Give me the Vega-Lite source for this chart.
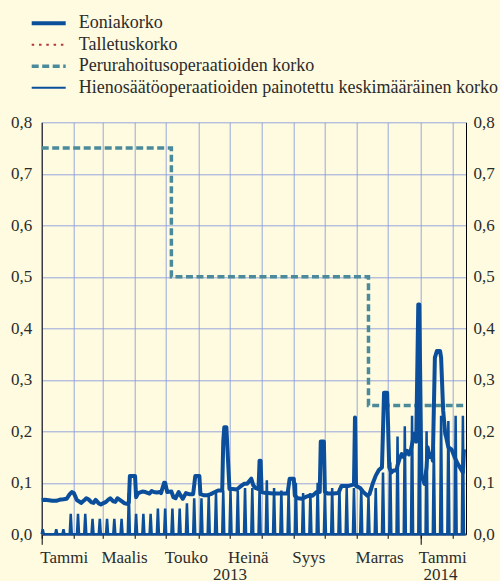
{
"$schema": "https://vega.github.io/schema/vega-lite/v6.json",
"width": 424.3, "height": 412,
"autosize": {"type": "none"},
"padding": {"left": 41.7, "top": 122.3, "right": 34, "bottom": 46.7},
"background": "#fefbe0",
"config": {
  "font": "Liberation Serif, Times New Roman, serif",
  "view": {"stroke": null},
  "axis": {"labelFont": "Liberation Serif, Times New Roman, serif", "labelFontSize": 17, "labelColor": "#2b2b2b", "domainColor": "#000000", "domainWidth": 1, "tickColor": "#000000", "gridColor": "#8c9cdb", "gridWidth": 1, "gridOpacity": 0.9, "title": null}
},
"datasets": {
  "mro": [{"d":"2013-01-01","v":0.75},{"d":"2013-05-06","v":0.5},{"d":"2013-11-12","v":0.25},{"d":"2014-02-14","v":0.25}],
  "dep": [{"d":"2013-01-01","v":0},{"d":"2014-02-14","v":0}],
  "hieno": [
{"d":"2013-01-01","v":0},{"d":"2013-01-02","v":0.01},{"d":"2013-01-03","v":0},
{"d":"2013-01-14","v":0},{"d":"2013-01-15","v":0.01},{"d":"2013-01-16","v":0},
{"d":"2013-01-21","v":0},{"d":"2013-01-22","v":0.01},{"d":"2013-01-23","v":0},
{"d":"2013-01-28","v":0},{"d":"2013-01-29","v":0.04},{"d":"2013-01-30","v":0},
{"d":"2013-02-04","v":0},{"d":"2013-02-05","v":0.04},{"d":"2013-02-06","v":0},
{"d":"2013-02-11","v":0},{"d":"2013-02-12","v":0.04},{"d":"2013-02-13","v":0},
{"d":"2013-02-18","v":0},{"d":"2013-02-19","v":0.03},{"d":"2013-02-20","v":0},
{"d":"2013-02-25","v":0},{"d":"2013-02-26","v":0.03},{"d":"2013-02-27","v":0},
{"d":"2013-03-04","v":0},{"d":"2013-03-05","v":0.03},{"d":"2013-03-06","v":0},
{"d":"2013-03-11","v":0},{"d":"2013-03-12","v":0.03},{"d":"2013-03-13","v":0},
{"d":"2013-03-18","v":0},{"d":"2013-03-19","v":0.03},{"d":"2013-03-20","v":0},
{"d":"2013-03-25","v":0},{"d":"2013-03-26","v":0.08},{"d":"2013-03-27","v":0},
{"d":"2013-04-01","v":0},{"d":"2013-04-02","v":0.04},{"d":"2013-04-03","v":0},
{"d":"2013-04-08","v":0},{"d":"2013-04-09","v":0.04},{"d":"2013-04-10","v":0},
{"d":"2013-04-15","v":0},{"d":"2013-04-16","v":0.04},{"d":"2013-04-17","v":0},
{"d":"2013-04-22","v":0},{"d":"2013-04-23","v":0.05},{"d":"2013-04-24","v":0},
{"d":"2013-04-29","v":0},{"d":"2013-04-30","v":0.05},{"d":"2013-05-01","v":0},
{"d":"2013-05-06","v":0},{"d":"2013-05-07","v":0.05},{"d":"2013-05-08","v":0},
{"d":"2013-05-13","v":0},{"d":"2013-05-14","v":0.05},{"d":"2013-05-15","v":0},
{"d":"2013-05-20","v":0},{"d":"2013-05-21","v":0.06},{"d":"2013-05-22","v":0},
{"d":"2013-05-27","v":0},{"d":"2013-05-28","v":0.07},{"d":"2013-05-29","v":0},
{"d":"2013-06-03","v":0},{"d":"2013-06-04","v":0.07},{"d":"2013-06-05","v":0},
{"d":"2013-06-10","v":0},{"d":"2013-06-11","v":0.075},{"d":"2013-06-12","v":0},
{"d":"2013-06-17","v":0},{"d":"2013-06-18","v":0.08},{"d":"2013-06-19","v":0},
{"d":"2013-06-24","v":0},{"d":"2013-06-25","v":0.085},{"d":"2013-06-26","v":0},
{"d":"2013-07-01","v":0},{"d":"2013-07-02","v":0.085},{"d":"2013-07-03","v":0},
{"d":"2013-07-08","v":0},{"d":"2013-07-09","v":0.085},{"d":"2013-07-10","v":0},
{"d":"2013-07-15","v":0},{"d":"2013-07-16","v":0.09},{"d":"2013-07-17","v":0},
{"d":"2013-07-22","v":0},{"d":"2013-07-23","v":0.09},{"d":"2013-07-24","v":0},
{"d":"2013-07-29","v":0},{"d":"2013-07-30","v":0.09},{"d":"2013-07-31","v":0},
{"d":"2013-08-05","v":0},{"d":"2013-08-06","v":0.105},{"d":"2013-08-07","v":0},
{"d":"2013-08-12","v":0},{"d":"2013-08-13","v":0.09},{"d":"2013-08-14","v":0},
{"d":"2013-08-19","v":0},{"d":"2013-08-20","v":0.085},{"d":"2013-08-21","v":0},
{"d":"2013-08-26","v":0},{"d":"2013-08-27","v":0.085},{"d":"2013-08-28","v":0},
{"d":"2013-09-02","v":0},{"d":"2013-09-03","v":0.1},{"d":"2013-09-04","v":0},
{"d":"2013-09-09","v":0},{"d":"2013-09-10","v":0.08},{"d":"2013-09-11","v":0},
{"d":"2013-09-16","v":0},{"d":"2013-09-17","v":0.08},{"d":"2013-09-18","v":0},
{"d":"2013-09-23","v":0},{"d":"2013-09-24","v":0.1},{"d":"2013-09-25","v":0},
{"d":"2013-09-30","v":0},{"d":"2013-10-01","v":0.085},{"d":"2013-10-02","v":0},
{"d":"2013-10-07","v":0},{"d":"2013-10-08","v":0.09},{"d":"2013-10-09","v":0},
{"d":"2013-10-14","v":0},{"d":"2013-10-15","v":0.09},{"d":"2013-10-16","v":0},
{"d":"2013-10-21","v":0},{"d":"2013-10-22","v":0.09},{"d":"2013-10-23","v":0},
{"d":"2013-10-28","v":0},{"d":"2013-10-29","v":0.09},{"d":"2013-10-30","v":0},
{"d":"2013-11-04","v":0},{"d":"2013-11-05","v":0.09},{"d":"2013-11-06","v":0},
{"d":"2013-11-11","v":0},{"d":"2013-11-12","v":0.075},{"d":"2013-11-13","v":0},
{"d":"2013-11-18","v":0},{"d":"2013-11-19","v":0.09},{"d":"2013-11-20","v":0},
{"d":"2013-11-25","v":0},{"d":"2013-11-26","v":0.12},{"d":"2013-11-27","v":0},
{"d":"2013-12-02","v":0},{"d":"2013-12-03","v":0.14},{"d":"2013-12-04","v":0},
{"d":"2013-12-09","v":0},{"d":"2013-12-10","v":0.19},{"d":"2013-12-11","v":0},
{"d":"2013-12-16","v":0},{"d":"2013-12-17","v":0.21},{"d":"2013-12-18","v":0},
{"d":"2013-12-23","v":0},{"d":"2013-12-24","v":0.23},{"d":"2013-12-25","v":0},
{"d":"2013-12-30","v":0},{"d":"2013-12-31","v":0.24},{"d":"2014-01-01","v":0},
{"d":"2014-01-06","v":0},{"d":"2014-01-07","v":0.2},{"d":"2014-01-08","v":0},
{"d":"2014-01-13","v":0},{"d":"2014-01-14","v":0.17},{"d":"2014-01-15","v":0},
{"d":"2014-01-20","v":0},{"d":"2014-01-21","v":0.23},{"d":"2014-01-22","v":0},
{"d":"2014-01-27","v":0},{"d":"2014-01-28","v":0.22},{"d":"2014-01-29","v":0},
{"d":"2014-02-03","v":0},{"d":"2014-02-04","v":0.23},{"d":"2014-02-05","v":0},
{"d":"2014-02-10","v":0},{"d":"2014-02-11","v":0.23},{"d":"2014-02-12","v":0},
{"d":"2014-02-13","v":0}
  ],
  "eonia": [
{"d":"2013-01-01","v":0.066},{"d":"2013-01-04","v":0.067},{"d":"2013-01-08","v":0.066},{"d":"2013-01-11","v":0.065},
{"d":"2013-01-15","v":0.065},{"d":"2013-01-18","v":0.067},{"d":"2013-01-22","v":0.068},{"d":"2013-01-25","v":0.069},
{"d":"2013-01-28","v":0.078},{"d":"2013-01-30","v":0.082},{"d":"2013-02-01","v":0.080},{"d":"2013-02-04","v":0.066},
{"d":"2013-02-06","v":0.064},{"d":"2013-02-08","v":0.061},{"d":"2013-02-11","v":0.066},{"d":"2013-02-13","v":0.070},
{"d":"2013-02-15","v":0.068},{"d":"2013-02-18","v":0.062},{"d":"2013-02-20","v":0.061},{"d":"2013-02-22","v":0.067},
{"d":"2013-02-25","v":0.060},{"d":"2013-02-27","v":0.058},{"d":"2013-03-01","v":0.060},{"d":"2013-03-04","v":0.063},
{"d":"2013-03-06","v":0.067},{"d":"2013-03-08","v":0.070},{"d":"2013-03-11","v":0.064},{"d":"2013-03-13","v":0.063},
{"d":"2013-03-15","v":0.070},{"d":"2013-03-18","v":0.066},{"d":"2013-03-20","v":0.063},{"d":"2013-03-22","v":0.060},
{"d":"2013-03-25","v":0.059},{"d":"2013-03-26","v":0.062},{"d":"2013-03-27","v":0.113},{"d":"2013-04-01","v":0.113},
{"d":"2013-04-02","v":0.072},{"d":"2013-04-04","v":0.080},{"d":"2013-04-08","v":0.083},{"d":"2013-04-11","v":0.082},
{"d":"2013-04-15","v":0.079},{"d":"2013-04-17","v":0.084},{"d":"2013-04-19","v":0.082},{"d":"2013-04-22","v":0.081},
{"d":"2013-04-25","v":0.082},{"d":"2013-04-26","v":0.080},{"d":"2013-04-29","v":0.100},{"d":"2013-04-30","v":0.100},
{"d":"2013-05-02","v":0.082},{"d":"2013-05-06","v":0.083},{"d":"2013-05-08","v":0.072},{"d":"2013-05-10","v":0.070},
{"d":"2013-05-13","v":0.082},{"d":"2013-05-15","v":0.075},{"d":"2013-05-17","v":0.069},{"d":"2013-05-20","v":0.080},
{"d":"2013-05-23","v":0.078},{"d":"2013-05-27","v":0.078},{"d":"2013-05-29","v":0.113},{"d":"2013-06-02","v":0.113},
{"d":"2013-06-03","v":0.078},{"d":"2013-06-06","v":0.076},{"d":"2013-06-10","v":0.076},{"d":"2013-06-13","v":0.078},
{"d":"2013-06-17","v":0.082},{"d":"2013-06-20","v":0.085},{"d":"2013-06-24","v":0.085},{"d":"2013-06-25","v":0.180},
{"d":"2013-06-26","v":0.208},{"d":"2013-06-28","v":0.208},{"d":"2013-07-01","v":0.088},{"d":"2013-07-04","v":0.088},
{"d":"2013-07-08","v":0.087},{"d":"2013-07-11","v":0.092},{"d":"2013-07-15","v":0.098},{"d":"2013-07-18","v":0.098},
{"d":"2013-07-22","v":0.108},{"d":"2013-07-24","v":0.095},{"d":"2013-07-26","v":0.090},{"d":"2013-07-29","v":0.088},
{"d":"2013-07-30","v":0.143},{"d":"2013-07-31","v":0.143},{"d":"2013-08-01","v":0.082},{"d":"2013-08-05","v":0.080},
{"d":"2013-08-07","v":0.080},{"d":"2013-08-12","v":0.079},{"d":"2013-08-16","v":0.079},{"d":"2013-08-21","v":0.079},
{"d":"2013-08-26","v":0.079},{"d":"2013-08-28","v":0.108},{"d":"2013-09-01","v":0.108},{"d":"2013-09-02","v":0.075},
{"d":"2013-09-05","v":0.070},{"d":"2013-09-09","v":0.069},{"d":"2013-09-12","v":0.072},{"d":"2013-09-16","v":0.075},
{"d":"2013-09-19","v":0.075},{"d":"2013-09-23","v":0.082},{"d":"2013-09-26","v":0.082},{"d":"2013-09-27","v":0.180},
{"d":"2013-09-30","v":0.180},{"d":"2013-10-01","v":0.082},{"d":"2013-10-04","v":0.079},{"d":"2013-10-09","v":0.079},
{"d":"2013-10-14","v":0.080},{"d":"2013-10-17","v":0.094},{"d":"2013-10-21","v":0.094},{"d":"2013-10-24","v":0.094},
{"d":"2013-10-29","v":0.097},{"d":"2013-10-30","v":0.227},{"d":"2013-10-31","v":0.094},{"d":"2013-11-04","v":0.090},
{"d":"2013-11-07","v":0.082},{"d":"2013-11-11","v":0.075},{"d":"2013-11-13","v":0.078},{"d":"2013-11-16","v":0.098},
{"d":"2013-11-19","v":0.114},{"d":"2013-11-22","v":0.125},{"d":"2013-11-25","v":0.130},{"d":"2013-11-27","v":0.275},
{"d":"2013-11-30","v":0.275},{"d":"2013-12-02","v":0.130},{"d":"2013-12-04","v":0.120},{"d":"2013-12-06","v":0.124},
{"d":"2013-12-09","v":0.124},{"d":"2013-12-10","v":0.134},{"d":"2013-12-12","v":0.147},{"d":"2013-12-14","v":0.156},
{"d":"2013-12-16","v":0.150},{"d":"2013-12-19","v":0.162},{"d":"2013-12-21","v":0.155},{"d":"2013-12-23","v":0.165},
{"d":"2013-12-26","v":0.195},{"d":"2013-12-28","v":0.180},{"d":"2013-12-30","v":0.446},{"d":"2013-12-31","v":0.446},
{"d":"2014-01-02","v":0.114},{"d":"2014-01-05","v":0.098},{"d":"2014-01-07","v":0.130},{"d":"2014-01-08","v":0.169},
{"d":"2014-01-10","v":0.150},{"d":"2014-01-12","v":0.156},{"d":"2014-01-13","v":0.143},{"d":"2014-01-15","v":0.343},
{"d":"2014-01-17","v":0.356},{"d":"2014-01-20","v":0.356},{"d":"2014-01-21","v":0.343},{"d":"2014-01-23","v":0.240},
{"d":"2014-01-25","v":0.195},{"d":"2014-01-26","v":0.188},{"d":"2014-01-28","v":0.169},{"d":"2014-01-31","v":0.165},
{"d":"2014-02-03","v":0.150},{"d":"2014-02-06","v":0.137},{"d":"2014-02-09","v":0.127},{"d":"2014-02-11","v":0.120},
{"d":"2014-02-12","v":0.165}
  ]
},
"layer": [
  {
    "data": {"name": "mro"},
    "mark": {"type": "line", "interpolate": "step-after", "strokeWidth": 3.5, "strokeDash": [7, 3.5]},
    "encoding": {
      "x": {"field": "d", "type": "temporal",
        "scale": {"type": "utc", "domain": [{"year": 2013, "month": 1, "date": 1, "utc": true}, {"year": 2014, "month": 2, "date": 14, "utc": true}]},
        "axis": {"orient": "bottom", "grid": true, "ticks": true, "tickSize": 4, "domain": true,
          "values": [
            {"year": 2013, "month": 1, "date": 1, "utc": true}, {"year": 2013, "month": 2, "date": 1, "utc": true},
            {"year": 2013, "month": 3, "date": 1, "utc": true}, {"year": 2013, "month": 4, "date": 1, "utc": true},
            {"year": 2013, "month": 5, "date": 1, "utc": true}, {"year": 2013, "month": 6, "date": 1, "utc": true},
            {"year": 2013, "month": 7, "date": 1, "utc": true}, {"year": 2013, "month": 8, "date": 1, "utc": true},
            {"year": 2013, "month": 9, "date": 1, "utc": true}, {"year": 2013, "month": 10, "date": 1, "utc": true},
            {"year": 2013, "month": 11, "date": 1, "utc": true}, {"year": 2013, "month": 12, "date": 1, "utc": true},
            {"year": 2014, "month": 1, "date": 1, "utc": true}, {"year": 2014, "month": 2, "date": 1, "utc": true}
          ],
          "labelExpr": "['Tammi','','Maalis','','Touko','','Heinä','','Syys','','Marras',''][utcmonth(datum.value)]",
          "labelAlign": "left", "labelBaseline": "top", "labelPadding": 11, "labelOffset": -2,
          "labelOverlap": false, "labelFlush": false, "labelBound": false}},
      "y": {"field": "v", "type": "quantitative",
        "scale": {"domain": [0, 0.8], "nice": false, "zero": false},
        "axis": {"orient": "left", "values": [0, 0.1, 0.2, 0.3, 0.4, 0.5, 0.6, 0.7, 0.8],
          "labelExpr": "replace(format(datum.value, '.1f'), '.', ',')",
          "ticks": false, "labelPadding": 10, "grid": true, "domain": true}},
      "color": {"datum": "Perurahoitusoperaatioiden korko",
        "scale": {"domain": ["Eoniakorko", "Talletuskorko", "Perurahoitusoperaatioiden korko", "Hienosäätöoperaatioiden painotettu keskimääräinen korko"],
                  "range": ["#0b4f9c", "#b2393b", "#4b8a9b", "#0b4f9c"]},
        "legend": {"orient": "none", "legendX": -2, "legendY": -108, "title": null, "direction": "vertical",
          "symbolType": "stroke", "symbolSize": 1156, "labelFont": "Liberation Serif, Times New Roman, serif", "labelFontSize": 18,
          "labelColor": "#2b2b2b", "labelOffset": 21, "rowPadding": 3.5, "padding": 0, "labelLimit": 800,
          "encode": {"symbols": {"update": {
            "strokeWidth": {"signal": "datum.value === 'Eoniakorko' ? 4 : datum.value === 'Perurahoitusoperaatioiden korko' ? 3.5 : 2"},
            "strokeDash": {"signal": "datum.value === 'Talletuskorko' ? [2.5, 4.8] : datum.value === 'Perurahoitusoperaatioiden korko' ? [7, 3.5] : [1, 0]"}
          }}}}}
    }
  },
  {
    "data": {"name": "dep"},
    "mark": {"type": "line", "strokeWidth": 2, "strokeDash": [2.5, 4.8]},
    "encoding": {
      "x": {"field": "d", "type": "temporal",
        "scale": {"type": "utc", "domain": [{"year": 2013, "month": 1, "date": 1, "utc": true}, {"year": 2014, "month": 2, "date": 14, "utc": true}]},
        "axis": {"orient": "bottom", "grid": false, "domain": false, "labels": false, "ticks": true, "tickSize": 10,
          "values": [{"year": 2013, "month": 1, "date": 1, "utc": true}, {"year": 2014, "month": 1, "date": 1, "utc": true}]}},
      "y": {"field": "v", "type": "quantitative", "scale": {"domain": [0, 0.8], "nice": false, "zero": false}, "axis": null},
      "color": {"datum": "Talletuskorko"}
    }
  },
  {
    "data": {"name": "hieno"},
    "mark": {"type": "line", "strokeWidth": 2.5},
    "encoding": {
      "x": {"field": "d", "type": "temporal",
        "scale": {"type": "utc", "domain": [{"year": 2013, "month": 1, "date": 1, "utc": true}, {"year": 2014, "month": 2, "date": 14, "utc": true}]},
        "axis": null},
      "y": {"field": "v", "type": "quantitative", "scale": {"domain": [0, 0.8], "nice": false, "zero": false}, "axis": null},
      "color": {"datum": "Hienosäätöoperaatioiden painotettu keskimääräinen korko"}
    }
  },
  {
    "data": {"name": "eonia"},
    "mark": {"type": "line", "strokeWidth": 4, "strokeJoin": "round"},
    "encoding": {
      "x": {"field": "d", "type": "temporal",
        "scale": {"type": "utc", "domain": [{"year": 2013, "month": 1, "date": 1, "utc": true}, {"year": 2014, "month": 2, "date": 14, "utc": true}]},
        "axis": {"orient": "bottom", "grid": false, "domain": false, "ticks": false,
          "values": [{"year": 2013, "month": 7, "date": 1, "utc": true}, {"year": 2014, "month": 1, "date": 20, "utc": true}],
          "labelExpr": "utcFormat(datum.value, '%Y')", "labelAlign": "center", "labelBaseline": "top",
          "labelPadding": 32, "labelOverlap": false, "labelFlush": false, "labelBound": false}},
      "y": {"field": "v", "type": "quantitative", "scale": {"domain": [0, 0.8], "nice": false, "zero": false},
        "axis": {"orient": "right", "values": [0, 0.1, 0.2, 0.3, 0.4, 0.5, 0.6, 0.7, 0.8],
          "labelExpr": "replace(format(datum.value, '.1f'), '.', ',')",
          "ticks": false, "labelPadding": 7, "grid": false, "domain": true}},
      "color": {"datum": "Eoniakorko"}
    }
  }
],
"resolve": {"axis": {"x": "independent", "y": "independent"}}
}
